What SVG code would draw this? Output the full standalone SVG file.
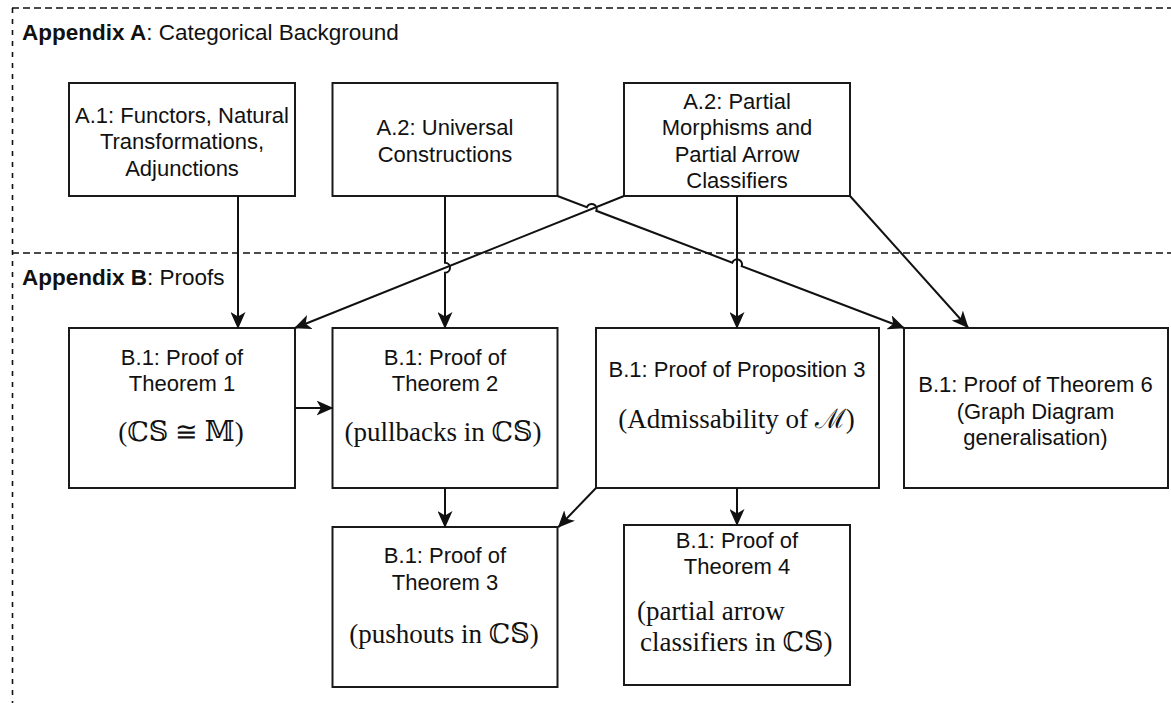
<svg xmlns="http://www.w3.org/2000/svg" width="1171" height="703" viewBox="0 0 1171 703">
<style>
.frame{fill:none;stroke:#111;stroke-width:1.6}
.h{stroke-dasharray:7 4}
.v{stroke-dasharray:5 6}
.box{fill:#fff;stroke:#1a1a1a;stroke-width:2}
.t{font-family:"Liberation Sans",Arial,sans-serif;font-size:22px;fill:#111;text-anchor:middle}
.title{font-family:"Liberation Sans",Arial,sans-serif;font-size:22.5px;fill:#111}
.m{font-family:"Liberation Serif","DejaVu Serif",serif;font-size:27px;fill:#111;text-anchor:middle}
.ml{font-family:"Liberation Serif","DejaVu Serif",serif;font-size:27px;fill:#111}
.e{fill:none;stroke:#111;stroke-width:2;marker-end:url(#arr)}
</style>
<defs>
<marker id="arr" markerUnits="userSpaceOnUse" markerWidth="17" markerHeight="15" viewBox="0 0 17 15" refX="16" refY="7.5" orient="auto">
<path d="M0,0 L17,7.5 L0,15 L4.5,7.5 Z" fill="#111"/>
</marker>
</defs>
<g id="frames">
<line class="frame h" x1="12" y1="8" x2="1171" y2="8"/>
<line class="frame v" x1="12.5" y1="8" x2="12.5" y2="703"/>
<line class="frame h" x1="12" y1="253" x2="1171" y2="253"/>
<text class="title" x="22" y="40"><tspan font-weight="bold">Appendix A</tspan>: Categorical Background</text>
<text class="title" x="22" y="285"><tspan font-weight="bold">Appendix B</tspan>: Proofs</text>
</g>
<g id="A1">
<rect class="box" x="69" y="83" width="226" height="113"/>
<text class="t" x="182" y="122.5">A.1: Functors, Natural</text>
<text class="t" x="182" y="149">Transformations,</text>
<text class="t" x="182" y="175.5">Adjunctions</text>
</g>
<g id="A2U">
<rect class="box" x="332.5" y="83" width="225" height="113"/>
<text class="t" x="445" y="135">A.2: Universal</text>
<text class="t" x="445" y="161.5">Constructions</text>
</g>
<g id="A2P">
<rect class="box" x="624" y="83" width="226" height="113"/>
<text class="t" x="737" y="108.5">A.2: Partial</text>
<text class="t" x="737" y="135">Morphisms and</text>
<text class="t" x="737" y="161.5">Partial Arrow</text>
<text class="t" x="737" y="187.5">Classifiers</text>
</g>
<g id="T1">
<rect class="box" x="69" y="328" width="226" height="160"/>
<text class="t" x="182" y="365">B.1: Proof of</text>
<text class="t" x="182" y="391">Theorem 1</text>
<text class="m" x="181" y="441">(ℂ𝕊 ≅ 𝕄)</text>
</g>
<g id="T2">
<rect class="box" x="332.5" y="328" width="225" height="160"/>
<text class="t" x="445" y="365">B.1: Proof of</text>
<text class="t" x="445" y="391">Theorem 2</text>
<text class="m" x="443" y="441">(pullbacks in ℂ𝕊)</text>
</g>
<g id="P3">
<rect class="box" x="596" y="328" width="283" height="160"/>
<text class="t" x="737" y="377">B.1: Proof of Proposition 3</text>
<text class="m" x="736.5" y="428">(Admissability of ℳ)</text>
</g>
<g id="T6">
<rect class="box" x="904" y="328" width="264" height="160"/>
<text class="t" x="1035.5" y="392">B.1: Proof of Theorem 6</text>
<text class="t" x="1035.5" y="418.5">(Graph Diagram</text>
<text class="t" x="1035.5" y="445">generalisation)</text>
</g>
<g id="T3">
<rect class="box" x="332.5" y="527" width="225" height="160"/>
<text class="t" x="445" y="563">B.1: Proof of</text>
<text class="t" x="445" y="590">Theorem 3</text>
<text class="m" x="444" y="643">(pushouts in ℂ𝕊)</text>
</g>
<g id="T4">
<rect class="box" x="624" y="525" width="226" height="160"/>
<text class="t" x="737" y="548">B.1: Proof of</text>
<text class="t" x="737" y="574">Theorem 4</text>
<text class="ml" x="637" y="620">(partial arrow</text>
<text class="ml" x="640" y="651">classifiers in ℂ𝕊)</text>
</g>
<g id="connectors">
<path class="e" d="M238,196 V328"/>
<path class="e" d="M445,196 V262.8 A5,5 0 0,1 445,272.8 V328"/>
<path class="e" d="M624,196 L295,328"/>
<path class="e" d="M557.5,196 L586.9,207.2 A5,5 0 0,1 596.3,210.8 L732.3,262.6 A5,5 0 0,1 741.7,266.2 L904,328"/>
<path class="e" d="M737,196 V328"/>
<path class="e" d="M850,196 L968,327.5"/>
<path class="e" d="M295,408 H332.5"/>
<path class="e" d="M445,488 V527"/>
<path class="e" d="M596,488 L558.5,527"/>
<path class="e" d="M737,488 V525"/>
</g>
</svg>
